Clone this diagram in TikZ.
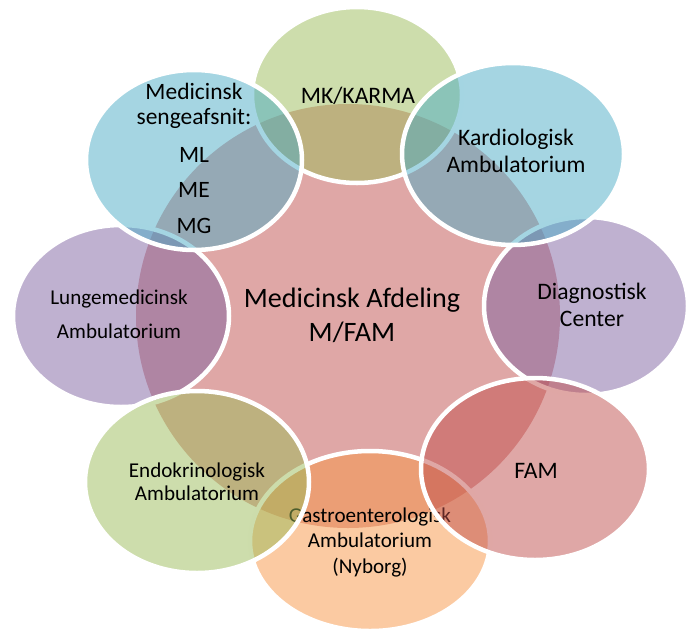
\documentclass[tikz,border=0pt]{standalone}
\usepackage{fontspec}
\setmainfont{Carlito}
\definecolor{accRed}{HTML}{C0504D}
\definecolor{accGreen}{HTML}{9BBB59}
\definecolor{accAqua}{HTML}{4BACC6}
\definecolor{accPurple}{HTML}{8064A2}
\definecolor{accOrange}{HTML}{F79646}
\begin{document}
\begin{tikzpicture}[x=0.025cm,y=-0.025cm]
\tikzstyle{every node}+=[inner sep=0pt, align=center, text=black, anchor=base]
\tikzstyle{bubble}=[draw=white, line width=3.2pt, fill opacity=0.5]
\tikzstyle{txtbig}=[font=\fontsize{20}{23.5}\selectfont]
\tikzstyle{txtmid}=[font=\fontsize{16.8}{18.5}\selectfont]
\tikzstyle{txtsmall}=[font=\fontsize{15}{17.8}\selectfont]

\useasboundingbox (0,0) rectangle (688,632);

% centre
\fill [accRed, fill opacity=0.5] (348,316) circle (212);
\draw (352,341) node (afd) [txtbig] {Medicinsk Afdeling\\M/FAM};

% satellites, last line of each text sits on the given baseline
\draw [bubble, fill=accGreen] (357,95) ellipse (105 and 88);
\draw (358,103) node (mk) [txtmid] {MK/KARMA};

\draw [bubble, fill=accPurple] (586,306) ellipse (102 and 89);
\draw (592,326) node (diag) [txtmid] {Diagnostisk\\Center};

\draw [bubble, fill=accAqua] (513,154) ellipse (111 and 91);
\draw (516,172) node (kard) [txtmid] {Kardiologisk\\Ambulatorium};

\draw [bubble, fill=accOrange] (370,541) ellipse (120 and 90);
\draw (370,573) node (gastro) [txtsmall] {Gastroenterologisk\\Ambulatorium\\(Nyborg)};

\draw [bubble, fill=accRed] (535,469) ellipse (114 and 91);
\draw (536,478) node (fam) [txtmid] {FAM};

\draw [bubble, fill=accPurple] (121,316) ellipse (108 and 91);
\draw (119,338) node (lunge) [txtsmall, font=\fontsize{15}{23.5}\selectfont] {Lungemedicinsk\\Ambulatorium};

\draw [bubble, fill=accGreen] (197,482) ellipse (112 and 91);
\draw (197,500) node (endo) [txtsmall, font=\fontsize{15}{16}\selectfont] {Endokrinologisk\\Ambulatorium};

\draw [bubble, fill=accAqua] (194,160) ellipse (108 and 90);
\draw (194,233) node (seng) [font=\fontsize{16.7}{17.8}\selectfont] {Medicinsk\\sengeafsnit:\\[9pt]ML\\[7pt]ME\\[7.5pt]MG};
\end{tikzpicture}
\end{document}
